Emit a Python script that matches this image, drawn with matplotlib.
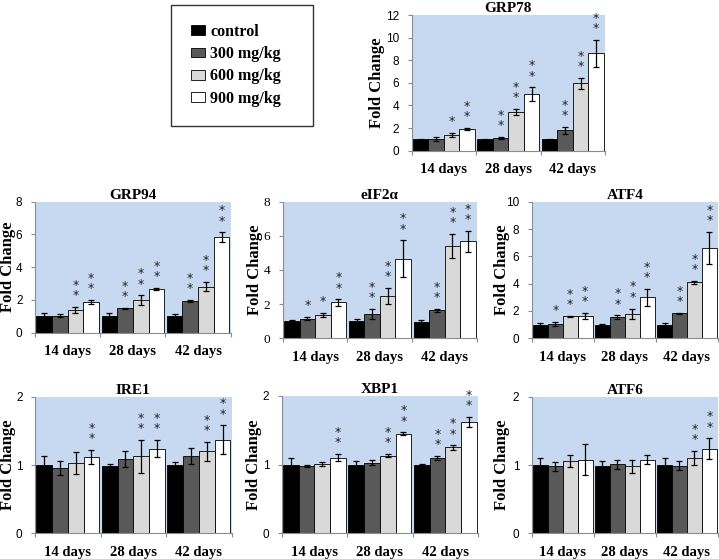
import numpy as np
import matplotlib
matplotlib.use("Agg")
import matplotlib.pyplot as plt
from matplotlib.patches import Rectangle

# ---- data ----
groups = ["14 days", "28 days", "42 days"]
doses = ["control", "300 mg/kg", "600 mg/kg", "900 mg/kg"]

grp78_mean = [[1.0, 1.05, 1.4, 1.9], [1.0, 1.15, 3.45, 5.0], [1.0, 1.8, 5.95, 8.6]]
grp78_err = [[0.05, 0.15, 0.2, 0.1], [0.04, 0.08, 0.25, 0.6], [0.05, 0.3, 0.5, 1.2]]
grp78_sig = [["", "", "*", "**"], ["", "**", "**", "**"], ["", "**", "**", "**"]]

grp94_mean = [[1.0, 1.05, 1.4, 1.88], [1.0, 1.48, 2.0, 2.68], [1.0, 1.93, 2.82, 5.82]]
grp94_err = [[0.18, 0.12, 0.18, 0.1], [0.18, 0.03, 0.28, 0.06], [0.12, 0.08, 0.28, 0.3]]
grp94_sig = [["", "", "**", "**"], ["", "**", "**", "**"], ["", "**", "**", "**"]]

eif2a_mean = [[1.0, 1.15, 1.38, 2.1], [1.0, 1.43, 2.48, 4.65], [0.97, 1.63, 5.42, 5.68]]
eif2a_err = [[0.05, 0.1, 0.12, 0.18], [0.12, 0.3, 0.45, 1.08], [0.1, 0.08, 0.7, 0.62]]
eif2a_sig = [["", "*", "*", "**"], ["", "**", "**", "**"], ["", "**", "**", "**"]]

atf4_mean = [[1.0, 1.02, 1.6, 1.65], [1.0, 1.55, 1.8, 3.0], [1.0, 1.83, 4.1, 6.6]]
atf4_err = [[0.15, 0.15, 0.04, 0.22], [0.05, 0.12, 0.38, 0.6], [0.15, 0.04, 0.1, 1.17]]
atf4_sig = [["", "*", "**", "**"], ["", "**", "**", "**"], ["", "**", "**", "**"]]

ire1_mean = [[1.0, 0.96, 1.03, 1.12], [0.99, 1.09, 1.13, 1.24], [1.0, 1.13, 1.2, 1.37]]
ire1_err = [[0.13, 0.1, 0.16, 0.1], [0.02, 0.12, 0.24, 0.13], [0.05, 0.12, 0.14, 0.21]]
ire1_sig = [["", "", "", "**"], ["", "", "**", "**"], ["", "", "**", "**"]]

xbp1_mean = [[1.0, 0.98, 1.01, 1.1], [1.0, 1.03, 1.13, 1.45], [1.0, 1.1, 1.25, 1.62]]
xbp1_err = [[0.1, 0.01, 0.03, 0.05], [0.05, 0.04, 0.02, 0.02], [0.01, 0.03, 0.03, 0.07]]
xbp1_sig = [["", "", "", "**"], ["", "", "**", "**"], ["", "**", "**", "**"]]

atf6_mean = [[1.0, 0.98, 1.06, 1.08], [0.99, 1.01, 0.98, 1.08], [1.0, 0.99, 1.1, 1.24]]
atf6_err = [[0.1, 0.07, 0.09, 0.23], [0.07, 0.07, 0.09, 0.07], [0.1, 0.07, 0.1, 0.15]]
atf6_sig = [["", "", "", ""], ["", "", "", ""], ["", "", "**", "**"]]

# ---- style ----
W, H = 719, 559
BG = "#c6d9f0"
AXIS_GRAY = "#8c8c8c"
bar_colors = ["#000000", "#595959", "#d9d9d9", "#ffffff"]
SERIF = "Liberation Serif"
SANS = "Liberation Sans"
BAR_W = 0.24

fig = plt.figure(figsize=(W / 100, H / 100), dpi=100)


def px_axes(left, top, right, bottom):
    return fig.add_axes([left / W, 1 - bottom / H, (right - left) / W, (bottom - top) / H])


def draw_panel(box, title, means, errs, sigs, ymax, ystep, label_dx, tick_font=SANS):
    ax = px_axes(*box)
    ax.set_facecolor(BG)
    means = np.array(means)
    errs = np.array(errs)
    x = np.arange(len(groups))
    handles = []
    for j in range(len(doses)):
        xs = x + (j - 1.5) * BAR_W
        b = ax.bar(xs, means[:, j], BAR_W, color=bar_colors[j], edgecolor="#000000",
                   linewidth=0.6, yerr=errs[:, j], capsize=2.2,
                   error_kw=dict(ecolor="black", elinewidth=0.9, capthick=0.9), zorder=2)
        handles.append(b)
        for i in range(len(groups)):
            stars = sigs[i][j]
            if not stars:
                continue
            # stacked asterisks, one per line
            ax.annotate("\n".join(stars), (xs[i], means[i, j] + errs[i, j]), xytext=(0, 3.5),
                        textcoords="offset points", ha="center", va="bottom",
                        fontsize=9, family="DejaVu Sans", color="#222222",
                        linespacing=0.72)
    ax.set_xlim(-0.5, 2.5)
    ax.set_ylim(0, ymax)
    ticks = np.arange(0, ymax + 0.01, ystep)
    ax.set_yticks(ticks)
    ax.set_yticklabels([f"{v:g}" for v in ticks],
                       family=tick_font, fontsize=8.5 if tick_font == SANS else 9.5)
    ax.tick_params(axis="y", length=3, width=0.8, color=AXIS_GRAY, pad=6)
    # category separators as major ticks, labels on minor ticks
    ax.set_xticks([-0.5, 0.5, 1.5, 2.5])
    ax.set_xticklabels([])
    ax.tick_params(axis="x", which="major", length=3, width=0.8, color=AXIS_GRAY)
    ax.set_xticks(x, minor=True)
    ax.set_xticklabels(groups, minor=True, family=SERIF, fontweight="bold", fontsize=10.5)
    ax.tick_params(axis="x", which="minor", length=0, pad=9)
    for s in ["top", "right"]:
        ax.spines[s].set_visible(False)
    for s in ["left", "bottom"]:
        ax.spines[s].set_color(AXIS_GRAY)
        ax.spines[s].set_linewidth(0.8)
    ax.set_title(title, family=SERIF, fontweight="bold", fontsize=11, pad=2)
    ax.set_ylabel("Fold Change", family=SERIF, fontweight="bold", fontsize=12, va="center")
    ax.yaxis.set_label_coords(-label_dx / (box[2] - box[0]), 0.5)
    return handles


handles = draw_panel((411.7, 15, 605, 150.7), "GRP78", grp78_mean, grp78_err, grp78_sig, 12, 2, 35)
draw_panel((35, 201.7, 230.7, 332.7), "GRP94", grp94_mean, grp94_err, grp94_sig, 8, 2, 27)
draw_panel((282.7, 201.7, 477, 338.3), "eIF2α", eif2a_mean, eif2a_err, eif2a_sig, 8, 2, 28, tick_font=SERIF)
draw_panel((531.7, 201.7, 718, 338.3), "ATF4", atf4_mean, atf4_err, atf4_sig, 10, 2, 30)
draw_panel((35, 396.7, 231.7, 533.3), "IRE1", ire1_mean, ire1_err, ire1_sig, 2, 1, 27)
draw_panel((281.7, 396, 478, 533.3), "XBP1", xbp1_mean, xbp1_err, xbp1_sig, 2, 1, 28)
draw_panel((531.7, 396.7, 718, 533.3), "ATF6", atf6_mean, atf6_err, atf6_sig, 2, 1, 30)

# legend box
fig.patches.append(Rectangle((170.7 / W, 1 - 126 / H), (313.3 - 170.7) / W, (126 - 5) / H,
                             transform=fig.transFigure, fill=False, edgecolor="#333333",
                             linewidth=1.0))
fig.legend(handles, doses, loc="center", bbox_to_anchor=(236 / W, 1 - 65.3 / H),
           frameon=False, prop=dict(family=SERIF, weight="bold", size=11.5),
           handlelength=0.9, handleheight=0.55, handletextpad=0.3, labelspacing=0.4)

fig.savefig("out.png", dpi=100)
